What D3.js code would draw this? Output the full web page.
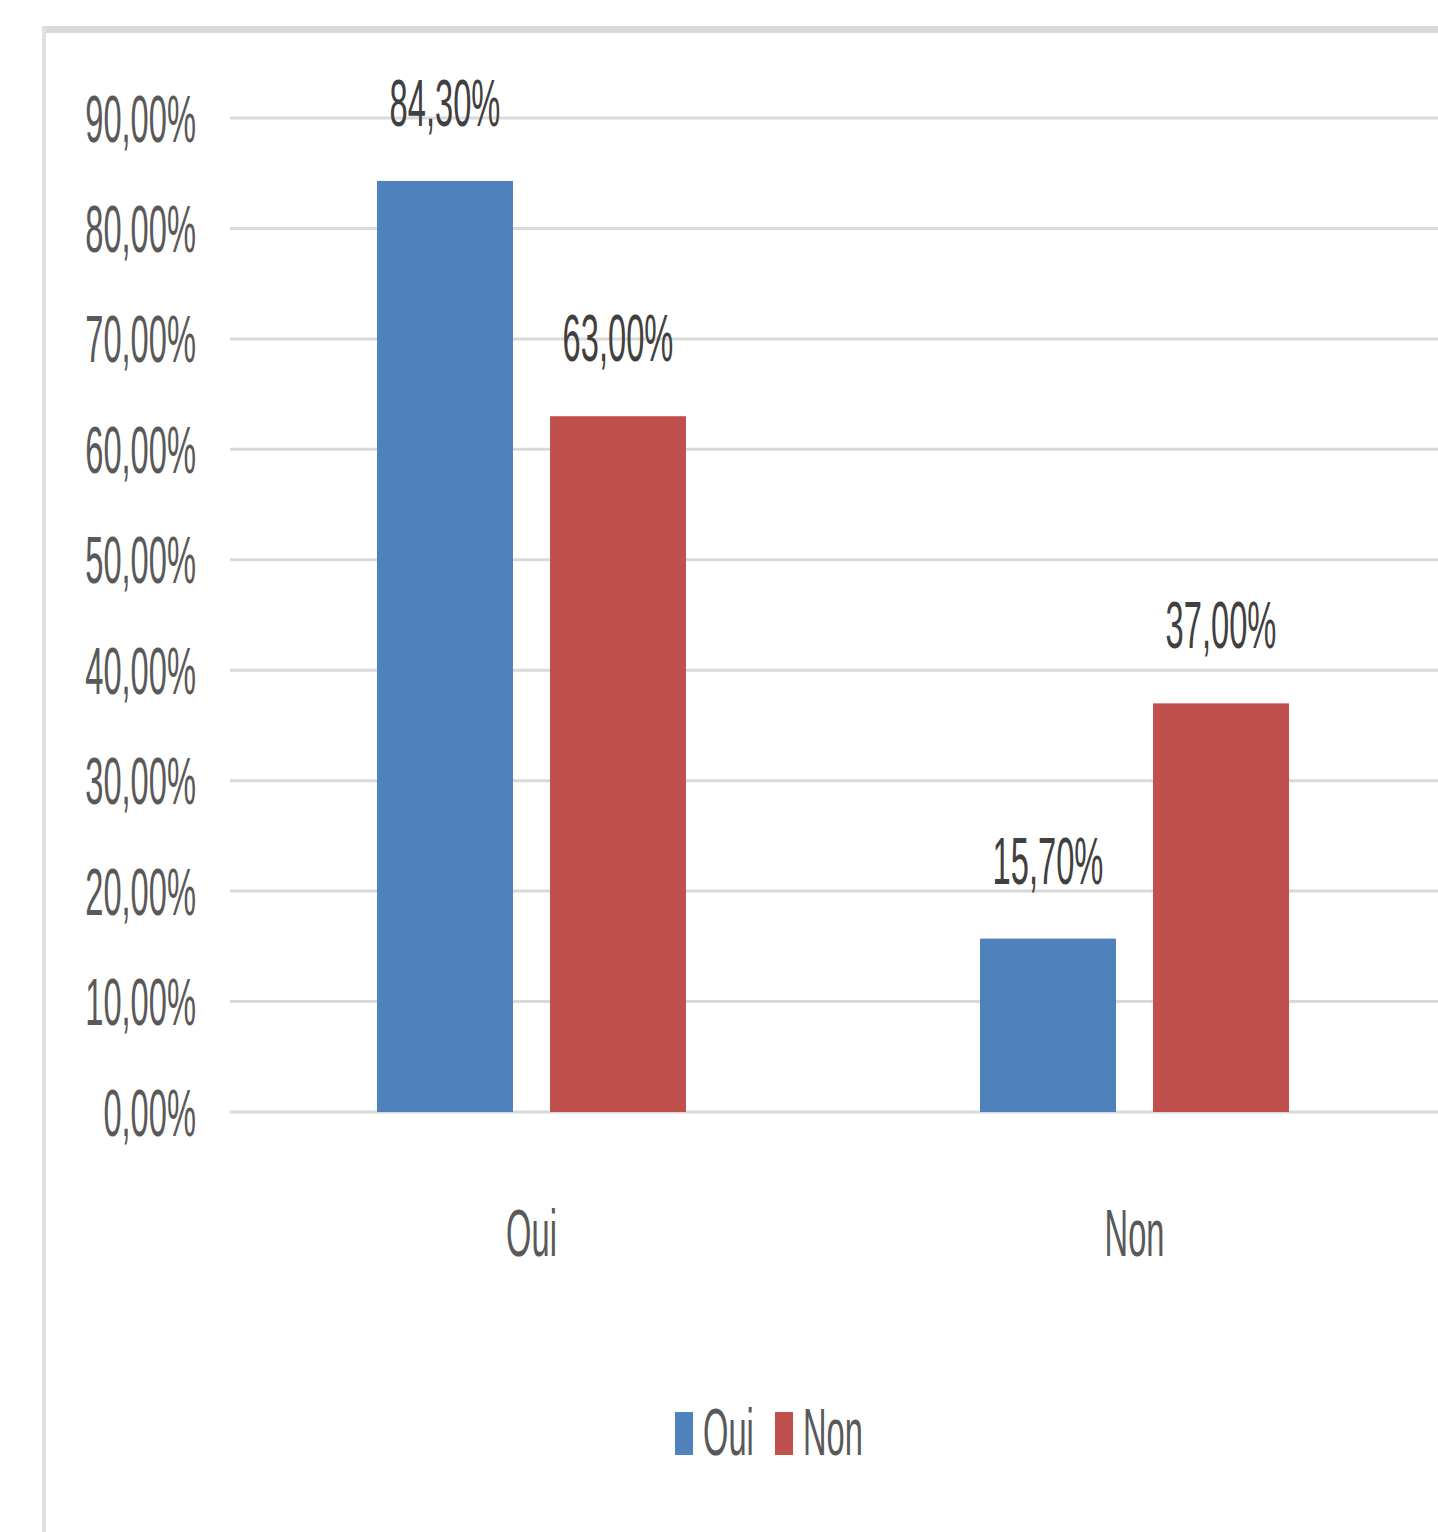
<!DOCTYPE html>
<html>
<head>
<meta charset="utf-8">
<script src="https://cdn.jsdelivr.net/npm/d3@7"></script>
<style>
  html, body { margin: 0; padding: 0; background: #ffffff; }
  svg { display: block; }
</style>
</head>
<body>
<svg id="chart" width="1438" height="1532"></svg>
<script>
// Réponses (Oui / Non) par groupe, en pourcentage
const categories = ["Oui", "Non"];
const seriesNames = ["Oui", "Non"];
const seriesOui = [84.3, 15.7];
const seriesNon = [63.0, 37.0];
const yTicks = [0, 10, 20, 30, 40, 50, 60, 70, 80, 90];

const colors = { "Oui": "#4f81bd", "Non": "#c0504d" };

const W = 1438, H = 1532;
const plot = { left: 230, right: 1436, top: 118, bottom: 1112 };

const svg = d3.select("#chart");

// Cadre du graphique (coupé à droite)
svg.append("rect").attr("x", 42).attr("y", 26).attr("width", W).attr("height", 7).attr("fill", "#d9d9d9");
svg.append("rect").attr("x", 42).attr("y", 26).attr("width", 4).attr("height", H).attr("fill", "#e0e0e0");

const y = d3.scaleLinear().domain([0, 90]).range([plot.bottom, plot.top]);
const x0 = d3.scaleBand().domain(categories).range([plot.left, plot.right])
  .paddingInner(0.4876).paddingOuter(0.2438);
const x1 = d3.scaleBand().domain(seriesNames).range([0, x0.bandwidth()])
  .paddingInner(0.214).paddingOuter(0);

const fr = d3.formatLocale({ decimal: ",", thousands: " ", grouping: [3], currency: ["", " €"] });
const pct = v => fr.format(".2f")(v) + "%";

const FONT = "'Liberation Sans', Arial, sans-serif";
const FS = 66;      // taille de police
const SX = 0.495;   // police étroite : compression horizontale

function label(g, x, yb, txt, anchor, fill) {
  return g.append("text")
    .attr("transform", `translate(${x},${yb}) scale(${SX},1)`)
    .attr("text-anchor", anchor)
    .attr("font-family", FONT)
    .attr("font-size", FS)
    .attr("fill", fill)
    .text(txt);
}

// Quadrillage horizontal
const grid = svg.append("g");
grid.selectAll("line").data(yTicks).join("line")
  .attr("x1", plot.left).attr("x2", W)
  .attr("y1", d => y(d)).attr("y2", d => y(d))
  .attr("stroke", "#d9d9d9").attr("stroke-width", 3);

// Étiquettes de l'axe vertical
const yAxis = svg.append("g");
yTicks.forEach(t => label(yAxis, 196, y(t) + 23.5, pct(t), "end", "#595959"));

// Barres
const rows = categories.map((c, i) => ({ cat: c, values: [
  { s: "Oui", v: seriesOui[i] }, { s: "Non", v: seriesNon[i] } ] }));

const groups = svg.append("g").selectAll("g").data(rows).join("g")
  .attr("transform", d => `translate(${x0(d.cat)},0)`);

groups.selectAll("rect").data(d => d.values).join("rect")
  .attr("x", d => x1(d.s))
  .attr("y", d => y(d.v))
  .attr("width", x1.bandwidth())
  .attr("height", d => y(0) - y(d.v))
  .attr("fill", d => colors[d.s]);

// Étiquettes de données
groups.each(function(d) {
  const g = d3.select(this);
  d.values.forEach(v => label(g, x1(v.s) + x1.bandwidth() / 2, y(v.v) - 55, pct(v.v), "middle", "#404040"));
});

// Étiquettes des catégories
const xAxis = svg.append("g");
categories.forEach(c => label(xAxis, x0(c) + x0.bandwidth() / 2, 1256, c, "middle", "#595959"));

// Légende
const legend = svg.append("g");
const legendItems = [ { s: "Oui", x: 675 }, { s: "Non", x: 775 } ];
legendItems.forEach(it => {
  legend.append("rect").attr("x", it.x).attr("y", 1412).attr("width", 18).attr("height", 43)
    .attr("fill", colors[it.s]);
  label(legend, it.x + 28, 1455, it.s, "start", "#595959");
});
</script>
</body>
</html>
